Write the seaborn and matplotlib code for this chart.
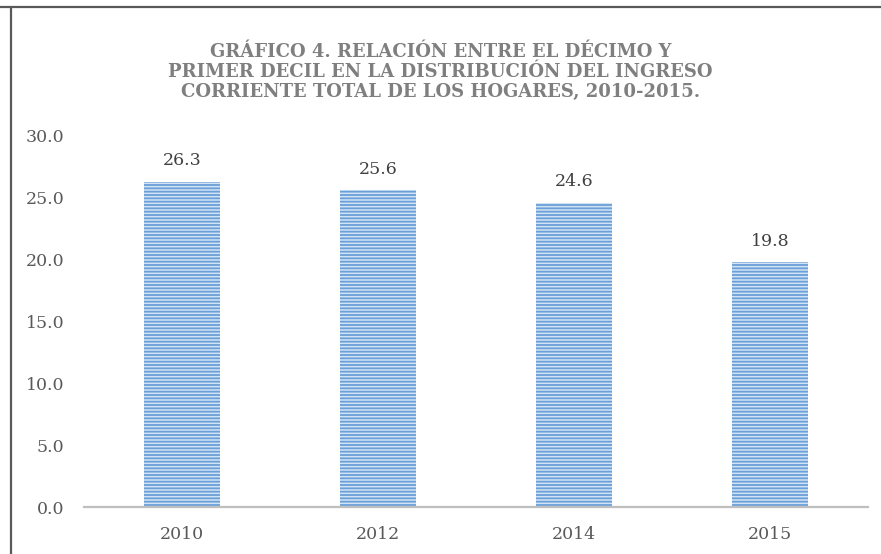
import matplotlib
matplotlib.use('Agg')
import matplotlib.pyplot as plt
import seaborn as sns
import numpy as np
from matplotlib.lines import Line2D

# data
years = ['2010', '2012', '2014', '2015']
ratio = [26.3, 25.6, 24.6, 19.8]
yticks = [0, 5, 10, 15, 20, 25, 30]

title_lines = ['GRÁFICO 4. RELACIÓN ENTRE EL DÉCIMO Y',
               'PRIMER DECIL EN LA DISTRIBUCIÓN DEL INGRESO',
               'CORRIENTE TOTAL DE LOS HOGARES, 2010-2015.']

sns.set_style('white')
plt.rcParams['font.family'] = ['DejaVu Serif']
plt.rcParams['hatch.linewidth'] = 1.3

fig = plt.figure(figsize=(8.81, 5.54), dpi=100)
ax = fig.add_axes([84/881, 1-507/554, 784/881, (507-136)/554])

sns.barplot(x=years, y=ratio, color='#d2e3f5', saturation=1, width=0.383, ax=ax)
for p in ax.patches:
    p.set_hatch('-----')
    p.set_edgecolor('#6a9fd8')
    p.set_linewidth(0)

ax.bar_label(ax.containers[0], fmt='%.1f', padding=9, fontsize=12.5, color='#404040')

ax.set_xlim(-0.5, 3.5)
ax.set_ylim(0, 30)
ax.set_yticks(yticks)
ax.set_yticklabels(['%.1f' % v for v in yticks])
ax.tick_params(axis='y', length=0, pad=14, labelsize=12.5, labelcolor='#595959')
ax.tick_params(axis='x', length=0, pad=14, labelsize=12.5, labelcolor='#595959')
ax.set_xlabel('')
ax.set_ylabel('')
for s in ['top', 'right', 'left']:
    ax.spines[s].set_visible(False)
ax.spines['bottom'].set_color('#bfbfbf')
ax.spines['bottom'].set_linewidth(1.6)
ax.grid(False)

# title, one line at a time
for i, line in enumerate(title_lines):
    fig.text(0.5, 1 - (52 + 20*i)/554, line, ha='center', va='center',
             fontsize=13, fontweight='bold', color='#7f7f7f')

# frame of the original chart (cropped)
fig.add_artist(Line2D([0, 1], [1-7/554, 1-7/554], color='#595959', lw=1.6, transform=fig.transFigure))
fig.add_artist(Line2D([11/881, 11/881], [0, 1-7/554], color='#595959', lw=1.6, transform=fig.transFigure))

fig.savefig('out.png', dpi=100)
